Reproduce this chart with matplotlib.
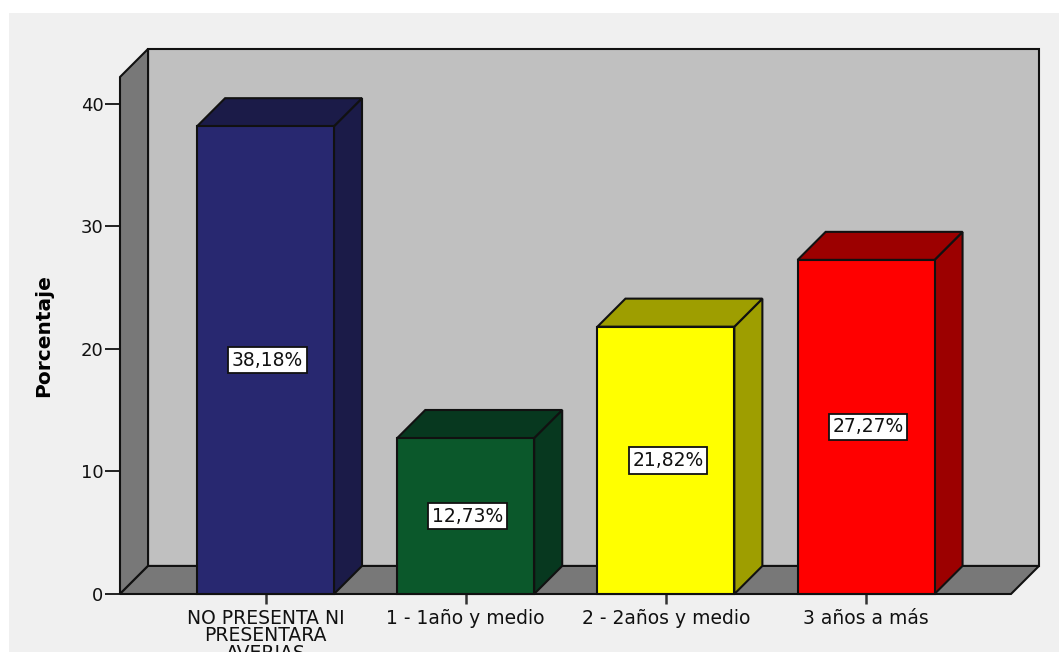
import matplotlib
matplotlib.use("Agg")
import matplotlib.pyplot as plt
from matplotlib.patches import Polygon, Rectangle

# Data
categories = ["NO PRESENTA NI\nPRESENTARA\nAVERIAS", "1 - 1año y medio",
              "2 - 2años y medio", "3 años a más"]
percentages = [38.18, 12.73, 21.82, 27.27]
value_labels = ["38,18%", "12,73%", "21,82%", "27,27%"]
y_ticks = [0, 10, 20, 30, 40]

# Styling
front_colors = ["#282870", "#0b582b", "#ffff00", "#ff0000"]
shade_colors = ["#1b1b48", "#07381f", "#9e9e00", "#9c0000"]
wall_color = "#c0c0c0"
side_color = "#787878"
panel_color = "#f0f0f0"

W, H, DPI = 1059, 652, 100
XLIM = (-0.727, 3.724)
YLIM = (0, 42.2)
BAR_W = 0.684
DX, DY = 0.14, 2.29          # depth of the 3-D effect in data units
FONT = "DejaVu Sans"

fig = plt.figure(figsize=(W / DPI, H / DPI), dpi=DPI, facecolor="white")
fig.patches.append(Rectangle((9 / W, 0), 1 - 9 / W, (H - 13) / H,
                             transform=fig.transFigure, facecolor=panel_color,
                             edgecolor="none", zorder=-5))

ax = fig.add_axes([120 / W, 58 / H, (1011 - 120) / W, 517 / H])
ax.set_zorder(1)
ax.set_xlim(*XLIM)
ax.set_ylim(*YLIM)
ax.patch.set_visible(False)
for s in ax.spines.values():
    s.set_visible(False)

x0, x1 = XLIM
ytop = YLIM[1]
edge = dict(edgecolor="#111111", linewidth=1.5, clip_on=False)

# back wall, left wall and floor
ax.add_patch(Polygon([(x0 + DX, DY), (x1 + DX, DY), (x1 + DX, ytop + DY),
                      (x0 + DX, ytop + DY)], facecolor=wall_color, zorder=1, **edge))
ax.add_patch(Polygon([(x0, 0), (x0 + DX, DY), (x0 + DX, ytop + DY), (x0, ytop)],
                     facecolor=side_color, zorder=2, **edge))
ax.add_patch(Polygon([(x0, 0), (x1, 0), (x1 + DX, DY), (x0 + DX, DY)],
                     facecolor=side_color, zorder=2, **edge))

# 3-D bars
for i, (v, fc, sc, lab) in enumerate(zip(percentages, front_colors,
                                         shade_colors, value_labels)):
    left, right = i - BAR_W / 2, i + BAR_W / 2
    ax.add_patch(Polygon([(right, 0), (right + DX, DY), (right + DX, v + DY), (right, v)],
                         facecolor=sc, zorder=3, **edge))
    ax.add_patch(Polygon([(left, v), (right, v), (right + DX, v + DY), (left + DX, v + DY)],
                         facecolor=sc, zorder=3, **edge))
    ax.bar(i, v, width=BAR_W, color=fc, edgecolor="#111111", linewidth=1.5,
           zorder=4, clip_on=False)
    ax.text(i + 0.01, v / 2, lab, ha="center", va="center", fontsize=13.5,
            family=FONT, color="#111111", zorder=5,
            bbox=dict(boxstyle="square,pad=0.2", facecolor="white",
                      edgecolor="#111111", linewidth=1.3))

ax.set_yticks(y_ticks)
ax.set_yticklabels([str(t) for t in y_ticks], fontsize=13, family=FONT, color="#111111")
ax.set_xticks(range(len(categories)))
ax.set_xticklabels(categories, fontsize=13.5, family=FONT, color="#111111",
                   linespacing=0.92)
ax.tick_params(axis="y", length=10.5, width=1.3, pad=1.5, color="#111111")
ax.tick_params(axis="x", length=7.5, width=1.8, pad=3, color="#333333")

fig.text(44 / W, 316 / H, "Porcentaje", rotation=90, ha="center", va="center",
         fontsize=14.5, fontweight="bold", family=FONT, color="black")

fig.savefig("out.png", dpi=DPI, facecolor=fig.get_facecolor())
